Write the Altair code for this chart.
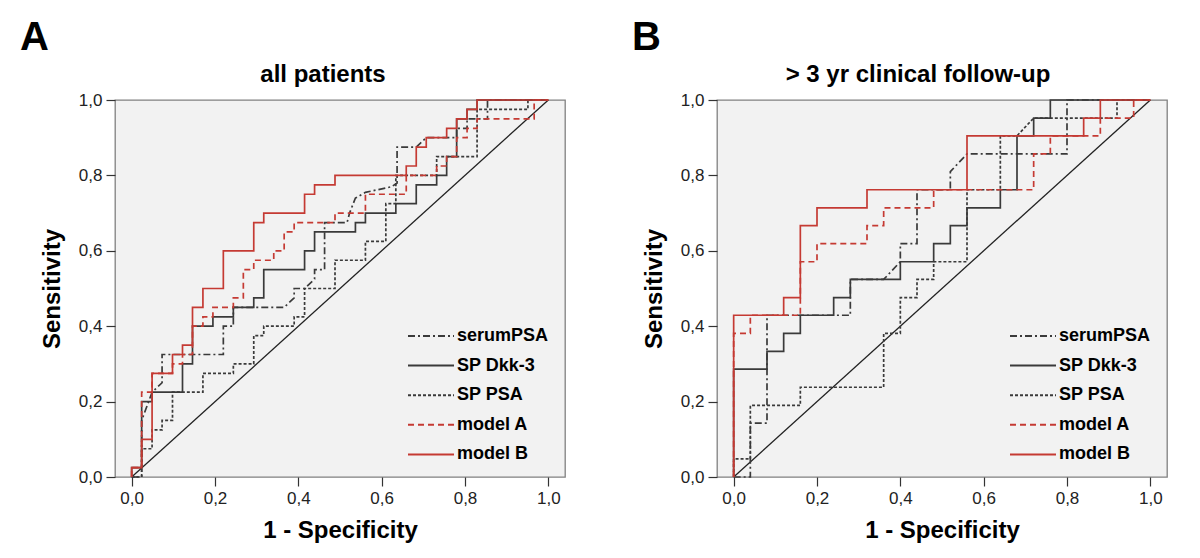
import altair as alt
import pandas as pd

SERIES = ["serumPSA", "SP Dkk-3", "SP PSA", "model A", "model B"]
COLORS = ["#3a3a3a", "#3a3a3a", "#3a3a3a", "#c53a33", "#c53a33"]
DASHES = [[7, 3, 2, 3], [1, 0], [3, 2], [6, 4], [1, 0]]
TICKS = [0.0, 0.2, 0.4, 0.6, 0.8, 1.0]

# ---------------- Panel A : all patients ----------------
A_SERUM_FPR = [0, 0.024, 0.024, 0.049, 0.073, 0.073, 0.22, 0.22, 0.244, 0.244, 0.366, 0.39, 0.39, 0.415, 0.439, 0.439, 0.463, 0.463, 0.517, 0.523, 0.537, 0.561, 0.624, 0.637, 0.637, 0.683, 0.707, 0.78, 0.78, 0.805, 0.805, 0.854, 0.854, 1.0]
A_SERUM_TPR = [0, 0, 0.15, 0.225, 0.25, 0.325, 0.325, 0.40, 0.40, 0.45, 0.45, 0.475, 0.50, 0.50, 0.525, 0.55, 0.55, 0.675, 0.675, 0.70, 0.74, 0.755, 0.77, 0.78, 0.875, 0.875, 0.90, 0.90, 0.925, 0.925, 0.95, 0.95, 1.0, 1.0]

A_DKK_FPR = [0, 0, 0.024, 0.024, 0.049, 0.049, 0.122, 0.122, 0.146, 0.146, 0.195, 0.195, 0.244, 0.244, 0.293, 0.293, 0.317, 0.317, 0.415, 0.415, 0.439, 0.439, 0.537, 0.537, 0.561, 0.561, 0.634, 0.634, 0.683, 0.683, 0.732, 0.732, 0.756, 0.756, 0.78, 0.78, 0.805, 0.805, 0.829, 0.829, 1.0]
A_DKK_TPR = [0, 0.025, 0.025, 0.20, 0.20, 0.225, 0.225, 0.30, 0.30, 0.40, 0.40, 0.425, 0.425, 0.45, 0.45, 0.475, 0.475, 0.55, 0.55, 0.60, 0.60, 0.65, 0.65, 0.675, 0.675, 0.70, 0.70, 0.725, 0.725, 0.775, 0.775, 0.80, 0.80, 0.85, 0.85, 0.95, 0.95, 0.975, 0.975, 1.0, 1.0]

A_SPPSA_FPR = [0, 0.024, 0.024, 0.049, 0.049, 0.073, 0.073, 0.098, 0.098, 0.171, 0.171, 0.244, 0.244, 0.293, 0.293, 0.317, 0.317, 0.39, 0.39, 0.415, 0.415, 0.488, 0.488, 0.561, 0.561, 0.61, 0.61, 0.634, 0.634, 0.732, 0.732, 0.829, 0.829, 0.951, 0.951, 1.0]
A_SPPSA_TPR = [0, 0, 0.075, 0.075, 0.125, 0.125, 0.15, 0.15, 0.225, 0.225, 0.275, 0.275, 0.30, 0.30, 0.375, 0.375, 0.40, 0.40, 0.425, 0.425, 0.50, 0.50, 0.575, 0.575, 0.625, 0.625, 0.725, 0.725, 0.80, 0.80, 0.85, 0.85, 0.975, 0.975, 1.0, 1.0]

A_MODA_FPR = [0, 0, 0.024, 0.024, 0.049, 0.049, 0.098, 0.098, 0.122, 0.122, 0.146, 0.146, 0.171, 0.171, 0.195, 0.195, 0.244, 0.244, 0.268, 0.268, 0.293, 0.293, 0.341, 0.341, 0.366, 0.366, 0.39, 0.39, 0.488, 0.488, 0.561, 0.561, 0.659, 0.659, 0.732, 0.732, 0.756, 0.756, 0.78, 0.78, 0.805, 0.805, 0.829, 0.829, 0.966, 0.966, 1.0]
A_MODA_TPR = [0, 0.025, 0.025, 0.225, 0.225, 0.275, 0.275, 0.30, 0.30, 0.325, 0.325, 0.40, 0.40, 0.425, 0.425, 0.45, 0.45, 0.475, 0.475, 0.55, 0.55, 0.575, 0.575, 0.60, 0.60, 0.65, 0.65, 0.675, 0.675, 0.70, 0.70, 0.75, 0.75, 0.80, 0.80, 0.825, 0.825, 0.85, 0.85, 0.90, 0.90, 0.925, 0.925, 0.95, 0.95, 1.0, 1.0]

A_MODB_FPR = [0, 0, 0.024, 0.024, 0.049, 0.049, 0.098, 0.098, 0.122, 0.122, 0.146, 0.146, 0.171, 0.171, 0.22, 0.22, 0.293, 0.293, 0.317, 0.317, 0.415, 0.415, 0.439, 0.439, 0.488, 0.488, 0.659, 0.659, 0.683, 0.683, 0.707, 0.707, 0.756, 0.756, 0.78, 0.78, 0.805, 0.805, 0.829, 0.829, 1.0]
A_MODB_TPR = [0, 0.025, 0.025, 0.10, 0.10, 0.275, 0.275, 0.325, 0.325, 0.35, 0.35, 0.45, 0.45, 0.50, 0.50, 0.60, 0.60, 0.675, 0.675, 0.70, 0.70, 0.75, 0.75, 0.775, 0.775, 0.80, 0.80, 0.825, 0.825, 0.875, 0.875, 0.90, 0.90, 0.925, 0.925, 0.95, 0.95, 0.975, 0.975, 1.0, 1.0]

# ---------------- Panel B : > 3 yr clinical follow-up ----------------
B_SERUM_FPR = [0, 0.04, 0.04, 0.08, 0.08, 0.28, 0.28, 0.36, 0.40, 0.40, 0.44, 0.44, 0.52, 0.52, 0.56, 0.80, 0.80, 1.0]
B_SERUM_TPR = [0, 0, 0.143, 0.143, 0.429, 0.429, 0.524, 0.524, 0.571, 0.619, 0.619, 0.762, 0.762, 0.810, 0.857, 0.857, 1.0, 1.0]

B_DKK_FPR = [0, 0, 0.08, 0.08, 0.12, 0.12, 0.16, 0.16, 0.24, 0.24, 0.28, 0.28, 0.40, 0.40, 0.48, 0.48, 0.52, 0.52, 0.56, 0.56, 0.64, 0.64, 0.68, 0.68, 0.72, 0.72, 0.76, 0.76, 1.0]
B_DKK_TPR = [0, 0.286, 0.286, 0.333, 0.333, 0.381, 0.381, 0.429, 0.429, 0.476, 0.476, 0.524, 0.524, 0.571, 0.571, 0.619, 0.619, 0.667, 0.667, 0.714, 0.714, 0.762, 0.762, 0.905, 0.905, 0.952, 0.952, 1.0, 1.0]

B_SPPSA_FPR = [0, 0, 0.04, 0.04, 0.16, 0.16, 0.36, 0.36, 0.40, 0.40, 0.44, 0.44, 0.48, 0.48, 0.56, 0.56, 0.64, 0.64, 0.68, 0.72, 0.92, 0.92, 1.0]
B_SPPSA_TPR = [0, 0.048, 0.048, 0.19, 0.19, 0.238, 0.238, 0.381, 0.381, 0.476, 0.476, 0.524, 0.524, 0.571, 0.571, 0.762, 0.762, 0.905, 0.905, 0.952, 0.952, 1.0, 1.0]

B_MODA_FPR = [0, 0, 0.04, 0.04, 0.16, 0.16, 0.20, 0.20, 0.32, 0.32, 0.36, 0.36, 0.48, 0.48, 0.72, 0.72, 0.76, 0.76, 0.88, 0.88, 0.96, 0.96, 1.0]
B_MODA_TPR = [0, 0.381, 0.381, 0.429, 0.429, 0.571, 0.571, 0.619, 0.619, 0.667, 0.667, 0.714, 0.714, 0.762, 0.762, 0.857, 0.857, 0.905, 0.905, 0.952, 0.952, 1.0, 1.0]

B_MODB_FPR = [0, 0, 0.12, 0.12, 0.16, 0.16, 0.20, 0.20, 0.32, 0.32, 0.56, 0.56, 0.84, 0.84, 0.88, 0.88, 1.0]
B_MODB_TPR = [0, 0.429, 0.429, 0.476, 0.476, 0.667, 0.667, 0.714, 0.714, 0.762, 0.762, 0.905, 0.905, 0.952, 0.952, 1.0, 1.0]

DIAG_X = [0.0, 1.0]
DIAG_Y = [0.0, 1.0]

FONT = "Liberation Sans"
LABEL_EXPR = "replace(format(datum.value, '.1f'), '.', ',')"
PLOT_W = 450
PLOT_H = 377


def build_df(curves):
    rows = []
    for name, (fx, ty) in zip(SERIES, curves):
        for i, (a, b) in enumerate(zip(fx, ty)):
            rows.append({"series": name, "fpr": a, "tpr": b, "idx": i})
    return pd.DataFrame(rows)


def make_legend():
    return alt.Legend(
        title=None,
        orient="none",
        legendX=292,
        legendY=228,
        symbolType="stroke",
        symbolSize=2116,
        symbolStrokeWidth=2,
        clipHeight=16,
        rowPadding=11.6,
        labelOffset=2,
        labelFont=FONT,
        labelFontSize=18,
        labelFontWeight="bold",
        labelColor="#000000",
        padding=0,
    )


def panel(curves, title, title_dx, letter, letter_dx):
    df = build_df(curves)
    xs = alt.Scale(domain=[-0.04, 1.04], nice=False, zero=False)
    ys = alt.Scale(domain=[0, 1], nice=False)
    xax = alt.Axis(values=TICKS, labelExpr=LABEL_EXPR, title="1 - Specificity")
    yax = alt.Axis(values=TICKS, labelExpr=LABEL_EXPR, title="Sensitivity")

    diag = alt.Chart(pd.DataFrame({"fpr": DIAG_X, "tpr": DIAG_Y})).mark_line(
        color="#222222", strokeWidth=1.3
    ).encode(
        x=alt.X("fpr:Q", scale=xs, axis=xax),
        y=alt.Y("tpr:Q", scale=ys, axis=yax),
    )

    lines = alt.Chart(df).mark_line(strokeWidth=1.7).encode(
        x=alt.X("fpr:Q", scale=xs, axis=xax),
        y=alt.Y("tpr:Q", scale=ys, axis=yax),
        order=alt.Order("idx:Q"),
        color=alt.Color(
            "series:N",
            scale=alt.Scale(domain=SERIES, range=COLORS),
            legend=make_legend(),
        ),
        strokeDash=alt.StrokeDash(
            "series:N",
            scale=alt.Scale(domain=SERIES, range=DASHES),
            legend=make_legend(),
        ),
    )

    letter_mark = alt.Chart(pd.DataFrame({"t": [letter]})).mark_text(
        font=FONT, fontSize=40, fontWeight="bold", align="left", baseline="alphabetic",
        color="#000000"
    ).encode(x=alt.value(letter_dx), y=alt.value(-50), text="t:N")

    title_mark = alt.Chart(pd.DataFrame({"t": [title]})).mark_text(
        font=FONT, fontSize=24, fontWeight="bold", align="center", baseline="alphabetic",
        color="#000000"
    ).encode(x=alt.value(PLOT_W / 2 + title_dx), y=alt.value(-18), text="t:N")

    return alt.layer(diag, lines, letter_mark, title_mark).properties(
        width=PLOT_W,
        height=PLOT_H,
    )


panel_a = panel(
    [(A_SERUM_FPR, A_SERUM_TPR), (A_DKK_FPR, A_DKK_TPR), (A_SPPSA_FPR, A_SPPSA_TPR),
     (A_MODA_FPR, A_MODA_TPR), (A_MODB_FPR, A_MODB_TPR)],
    "all patients", -17, "A", -95,
)
panel_b = panel(
    [(B_SERUM_FPR, B_SERUM_TPR), (B_DKK_FPR, B_DKK_TPR), (B_SPPSA_FPR, B_SPPSA_TPR),
     (B_MODA_FPR, B_MODA_TPR), (B_MODB_FPR, B_MODB_TPR)],
    "> 3 yr clinical follow-up", -24, "B", -85,
)

chart = alt.hconcat(panel_a, panel_b, spacing=65).resolve_scale(
    color="independent", strokeDash="independent"
).properties(
    padding={"left": 11, "top": 9, "right": 5, "bottom": 5}
).configure_view(
    fill="#f2f2f2", stroke="#808080", strokeWidth=1.3
).configure_axis(
    grid=False,
    domain=False,
    tickColor="#333333",
    tickSize=9,
    tickWidth=1.2,
    labelFont=FONT,
    labelFontSize=17,
    labelColor="#222222",
    labelPadding=4,
    titleFont=FONT,
    titleFontSize=24,
    titleFontWeight="bold",
    titleColor="#000000",
).configure_axisX(
    titlePadding=12,
).configure_axisY(
    titlePadding=14,
)

chart.save("out.html", embed_options={"renderer": "svg", "actions": False})
